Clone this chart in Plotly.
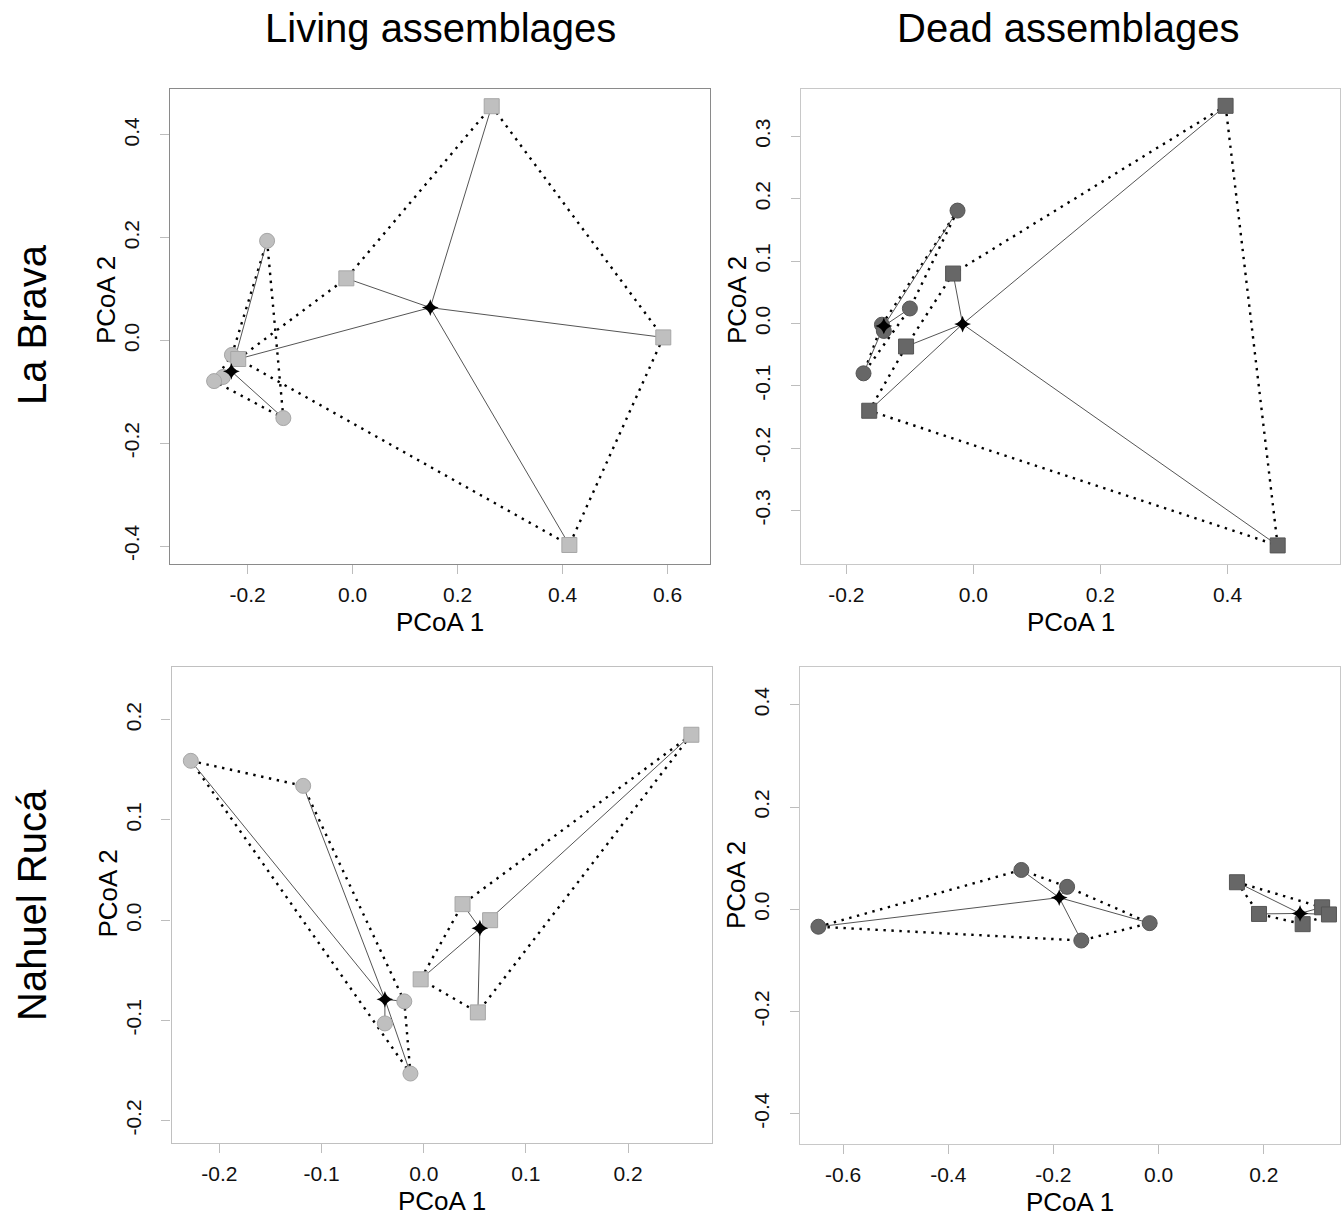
import plotly.graph_objects as go

W, H = 1344, 1220

# ---------------- data (PCoA scores) ----------------
# La Brava - living
LBL_CIRC_X = [-0.163, -0.132, -0.230, -0.247, -0.264]
LBL_CIRC_Y = [0.194, -0.151, -0.028, -0.071, -0.079]
LBL_CIRC_CENT = (-0.231, -0.060)
LBL_CIRC_HULL = [0, 1, 4, 2]
LBL_SQ_X = [0.265, -0.012, 0.592, 0.413, -0.218]
LBL_SQ_Y = [0.456, 0.121, 0.006, -0.398, -0.036]
LBL_SQ_CENT = (0.148, 0.064)
LBL_SQ_HULL = [0, 2, 3, 4, 1]

# La Brava - dead
LBD_CIRC_X = [-0.025, -0.100, -0.144, -0.141, -0.173]
LBD_CIRC_Y = [0.181, 0.024, -0.002, -0.012, -0.080]
LBD_CIRC_CENT = (-0.141, -0.004)
LBD_CIRC_HULL = [0, 1, 4, 2]
LBD_SQ_X = [0.397, 0.479, -0.032, -0.106, -0.164]
LBD_SQ_Y = [0.349, -0.356, 0.080, -0.037, -0.140]
LBD_SQ_CENT = (-0.017, -0.001)
LBD_SQ_HULL = [0, 1, 4, 3, 2]

# Nahuel Rucá - living
NRL_CIRC_X = [-0.228, -0.118, -0.019, -0.038, -0.013]
NRL_CIRC_Y = [0.159, 0.134, -0.081, -0.103, -0.153]
NRL_CIRC_CENT = (-0.038, -0.079)
NRL_CIRC_HULL = [0, 1, 2, 4]
NRL_SQ_X = [0.262, 0.038, 0.065, -0.003, 0.053]
NRL_SQ_Y = [0.185, 0.016, 0.000, -0.059, -0.092]
NRL_SQ_CENT = (0.055, -0.008)
NRL_SQ_HULL = [0, 1, 3, 4]

# Nahuel Rucá - dead
NRD_CIRC_X = [-0.647, -0.261, -0.174, -0.017, -0.147]
NRD_CIRC_Y = [-0.034, 0.077, 0.044, -0.027, -0.061]
NRD_CIRC_CENT = (-0.189, 0.023)
NRD_CIRC_HULL = [0, 1, 2, 3, 4]
NRD_SQ_X = [0.149, 0.191, 0.274, 0.311, 0.324]
NRD_SQ_Y = [0.053, -0.009, -0.029, 0.004, -0.010]
NRD_SQ_CENT = (0.269, -0.008)
NRD_SQ_HULL = [0, 3, 4, 2, 1]

# tick labels
P1_XT = [-0.2, 0.0, 0.2, 0.4, 0.6]
P1_YT = [-0.4, -0.2, 0.0, 0.2, 0.4]
P2_XT = [-0.2, 0.0, 0.2, 0.4]
P2_YT = [-0.3, -0.2, -0.1, 0.0, 0.1, 0.2, 0.3]
P3_XT = [-0.2, -0.1, 0.0, 0.1, 0.2]
P3_YT = [-0.2, -0.1, 0.0, 0.1, 0.2]
P4_XT = [-0.6, -0.4, -0.2, 0.0, 0.2]
P4_YT = [-0.4, -0.2, 0.0, 0.2, 0.4]

COL_TITLES = ["Living assemblages", "Dead assemblages"]
ROW_TITLES = ["La Brava", "Nahuel Rucá"]

# ---------------- styling / layout ----------------
LIGHT = dict(fill="#bfbfbf", edge="#a6a6a6")
DARK = dict(fill="#676767", edge="#555555")
FONT = "Liberation Sans, Arial, Helvetica, sans-serif"

panels = [
    dict(groups=[(LBL_CIRC_X, LBL_CIRC_Y, LBL_CIRC_CENT, LBL_CIRC_HULL, "circle"),
                 (LBL_SQ_X, LBL_SQ_Y, LBL_SQ_CENT, LBL_SQ_HULL, "square")],
         col=LIGHT, px=(170, 710), py=(89, 564),
         xr=[-0.348, 0.681], yr=[-0.435, 0.4895], xt=P1_XT, yt=P1_YT,
         box="#8a8a8a", ylab_y=300),
    dict(groups=[(LBD_CIRC_X, LBD_CIRC_Y, LBD_CIRC_CENT, LBD_CIRC_HULL, "circle"),
                 (LBD_SQ_X, LBD_SQ_Y, LBD_SQ_CENT, LBD_SQ_HULL, "square")],
         col=DARK, px=(801, 1340), py=(89, 563.5),
         xr=[-0.2714, 0.5771], yr=[-0.385, 0.376], xt=P2_XT, yt=P2_YT,
         box="#c8c8c8", ylab_y=300),
    dict(groups=[(NRL_CIRC_X, NRL_CIRC_Y, NRL_CIRC_CENT, NRL_CIRC_HULL, "circle"),
                 (NRL_SQ_X, NRL_SQ_Y, NRL_SQ_CENT, NRL_SQ_HULL, "square")],
         col=LIGHT, px=(171.5, 712), py=(667, 1143),
         xr=[-0.2469, 0.2822], yr=[-0.2223, 0.2526], xt=P3_XT, yt=P3_YT,
         box="#c0c0c0", ylab_y=893),
    dict(groups=[(NRD_CIRC_X, NRD_CIRC_Y, NRD_CIRC_CENT, NRD_CIRC_HULL, "circle"),
                 (NRD_SQ_X, NRD_SQ_Y, NRD_SQ_CENT, NRD_SQ_HULL, "square")],
         col=DARK, px=(800, 1340), py=(667, 1144),
         xr=[-0.682, 0.345], yr=[-0.459, 0.474], xt=P4_XT, yt=P4_YT,
         box="#c8c8c8", ylab_y=885),
]


def fmt(v):
    return f"{v:.1f}".replace("-0.0", "0.0")


fig = go.Figure()
layout = dict(width=W, height=H, margin=dict(l=0, r=0, t=0, b=0),
              paper_bgcolor="white", plot_bgcolor="white", showlegend=False,
              font=dict(family=FONT, color="black"))
annotations = []

for i, p in enumerate(panels, start=1):
    xa = "x" if i == 1 else f"x{i}"
    ya = "y" if i == 1 else f"y{i}"
    for gx, gy, cent, hull, sym in p["groups"]:
        # hull (dotted)
        hx = [gx[k] for k in hull] + [gx[hull[0]]]
        hy = [gy[k] for k in hull] + [gy[hull[0]]]
        fig.add_trace(go.Scatter(x=hx, y=hy, mode="lines", xaxis=xa, yaxis=ya,
                                 line=dict(color="black", width=2.4, dash="2.4px,5.6px"),
                                 hoverinfo="skip"))
        # spokes to centroid
        sx, sy = [], []
        for a, b in zip(gx, gy):
            sx += [cent[0], a, None]
            sy += [cent[1], b, None]
        fig.add_trace(go.Scatter(x=sx, y=sy, mode="lines", xaxis=xa, yaxis=ya,
                                 line=dict(color="#555555", width=1),
                                 hoverinfo="skip"))
    for gx, gy, cent, hull, sym in p["groups"]:
        fig.add_trace(go.Scatter(x=gx, y=gy, mode="markers", xaxis=xa, yaxis=ya,
                                 marker=dict(symbol=sym, size=15, color=p["col"]["fill"],
                                             line=dict(color=p["col"]["edge"], width=1))))
    for gx, gy, cent, hull, sym in p["groups"]:
        fig.add_trace(go.Scatter(x=[cent[0]], y=[cent[1]], mode="markers",
                                 xaxis=xa, yaxis=ya,
                                 marker=dict(symbol="star-diamond", size=12, color="black",
                                             line=dict(width=0))))

    x0, x1 = p["px"]
    y0, y1 = p["py"]
    common = dict(showgrid=False, zeroline=False, showline=True, mirror=True,
                  linecolor=p["box"], linewidth=1.3, ticks="outside", ticklen=9,
                  tickwidth=1, tickcolor="#bdbdbd",
                  tickfont=dict(size=21, family=FONT, color="#111111"))
    layout[f"xaxis{'' if i == 1 else i}"] = dict(
        common, domain=[x0 / W, x1 / W], range=p["xr"], anchor=ya,
        tickmode="array", tickvals=p["xt"], ticktext=[fmt(v) for v in p["xt"]],
        ticklabelstandoff=3)
    layout[f"yaxis{'' if i == 1 else i}"] = dict(
        common, domain=[1 - y1 / H, 1 - y0 / H], range=p["yr"], anchor=xa,
        tickmode="array", tickvals=p["yt"], ticktext=[fmt(v) for v in p["yt"]],
        tickangle=-90, ticklabelstandoff=12)

    # axis titles
    annotations.append(dict(text="PCoA 1", x=(x0 + x1) / 2 / W, y=1 - (y1 + 58) / H,
                            xref="paper", yref="paper", showarrow=False,
                            xanchor="center", yanchor="middle",
                            font=dict(size=26, family=FONT, color="black")))
    annotations.append(dict(text="PCoA 2", x=(x0 - 64) / W, y=1 - p["ylab_y"] / H,
                            xref="paper", yref="paper", showarrow=False, textangle=-90,
                            xanchor="center", yanchor="middle",
                            font=dict(size=26, family=FONT, color="black")))

# column / row titles
for txt, cx in zip(COL_TITLES, [440, 1068]):
    annotations.append(dict(text=txt, x=cx / W, y=1 - 28 / H, xref="paper", yref="paper",
                            showarrow=False, xanchor="center", yanchor="middle",
                            font=dict(size=40, family=FONT, color="black")))
for txt, cy in zip(ROW_TITLES, [325, 905]):
    annotations.append(dict(text=txt, x=32 / W, y=1 - cy / H, xref="paper", yref="paper",
                            showarrow=False, xanchor="center", yanchor="middle",
                            textangle=-90,
                            font=dict(size=40, family=FONT, color="black")))

layout["annotations"] = annotations
fig.update_layout(**layout)
fig.write_html("out.html")
